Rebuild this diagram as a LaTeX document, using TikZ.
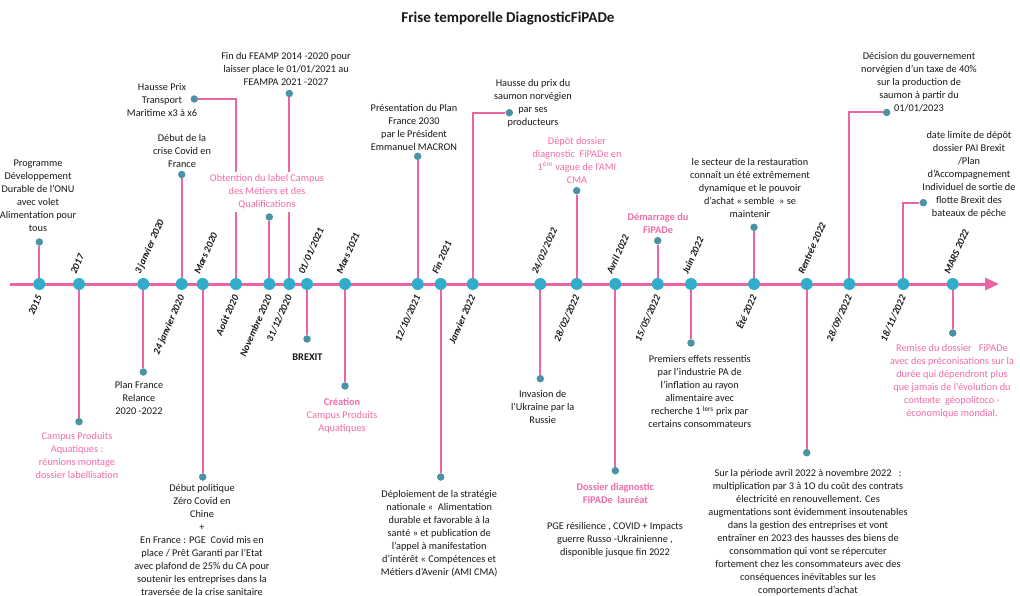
\documentclass[tikz,border=0pt]{standalone}
\usepackage{fontspec}
\setmainfont{Carlito}
\usetikzlibrary{arrows.meta,backgrounds}
\definecolor{pinkl}{RGB}{236,100,163}
\definecolor{pinkt}{RGB}{240,108,168}
\definecolor{bigc}{RGB}{49,172,202}
\definecolor{smallc}{RGB}{74,146,166}
\definecolor{txt}{RGB}{25,25,25}
\begin{document}
\begin{tikzpicture}[x=1pt,y=-1pt,
 bigdot/.style={circle,fill=bigc,minimum size=12pt,inner sep=0},
 smalldot/.style={circle,fill=smallc,minimum size=7.5pt,inner sep=0},
 stem/.style={draw=pinkl,line width=2pt},
 axisline/.style={draw=pinkl,line width=3pt,-{Triangle[length=14pt,width=12pt]}},
 lbl/.style={align=center,text=txt,font=\fontsize{10.3}{13}\selectfont,inner sep=0},
 plbl/.style={lbl,text=pinkt},
 bplbl/.style={lbl,text=pinkt,font=\fontsize{10.3}{13}\selectfont\bfseries},
 datea/.style={rotate=66,anchor=base west,inner sep=0,font=\fontsize{10}{11}\selectfont\bfseries\itshape,text=txt},
 dateb/.style={datea,anchor=base east},
]
\useasboundingbox (0,0) rectangle (1020,596);

\node[font=\fontsize{15}{18}\selectfont\bfseries,text=txt] (title) at (508,19) {Frise temporelle DiagnosticFiPADe};

% axis ends
\coordinate (axstart) at (10,284);
\coordinate (axend) at (999,284);

% big circles
\node[bigdot] (c15) at (39.3,284) {};
\node[bigdot] (c17) at (79,284) {};
\node[bigdot] (cJ3) at (143.3,284) {};
\node[bigdot] (cJ24) at (181.7,284) {};
\node[bigdot] (cM20) at (202.7,284) {};
\node[bigdot] (cA20) at (236,284) {};
\node[bigdot] (cN20) at (269.3,284) {};
\node[bigdot] (cD20) at (289.3,284) {};
\node[bigdot] (cJ21) at (307,284) {};
\node[bigdot] (cM21) at (345,284) {};
\node[bigdot] (cO21) at (417.7,284) {};
\node[bigdot] (cF21) at (440.7,284) {};
\node[bigdot] (cJ22) at (472.7,284) {};
\node[bigdot] (cF24) at (540.3,284) {};
\node[bigdot] (cF28) at (576.7,284) {};
\node[bigdot] (cAv22) at (615.3,284) {};
\node[bigdot] (cMa22) at (657.7,284) {};
\node[bigdot] (cJu22) at (691,284) {};
\node[bigdot] (cE22) at (754,284) {};
\node[bigdot] (cR22) at (806.7,284) {};
\node[bigdot] (cS22) at (849.3,284) {};
\node[bigdot] (cN22) at (903.3,284) {};
\node[bigdot] (cMs22) at (952.7,284) {};

% small dots
\node[smalldot] (d15) at (39.3,242) {};
\node[smalldot] (dCovid) at (181.7,174.5) {};
\node[smalldot] (dTransp) at (194.3,99) {};
\node[smalldot] (dFeamp) at (289.3,93.5) {};
\node[smalldot] (dLabel) at (269.3,217) {};
\node[smalldot] (dF2030) at (417.7,156.3) {};
\node[smalldot] (dSaumon) at (509.3,112.7) {};
\node[smalldot] (dDepot) at (576.7,190.7) {};
\node[smalldot] (dDemar) at (657.7,240.7) {};
\node[smalldot] (dResto) at (754,227.3) {};
\node[smalldot] (dTaxe) at (886.7,112.5) {};
\node[smalldot] (dPAI) at (923.3,202.7) {};
\node[smalldot] (dCampus) at (79,421.7) {};
\node[smalldot] (dRelance) at (143.3,372) {};
\node[smalldot] (dZero) at (202.7,477) {};
\node[smalldot] (dBrexit) at (307,339) {};
\node[smalldot] (dCreation) at (345,386) {};
\node[smalldot] (dDeploi) at (440.7,477) {};
\node[smalldot] (dUkraine) at (540.3,378.7) {};
\node[smalldot] (dLaureat) at (615.3,470.7) {};
\node[smalldot] (dInfl) at (691,343) {};
\node[smalldot] (dElec) at (806.7,452.7) {};
\node[smalldot] (dRemise) at (952.7,333) {};

% connectors
\begin{pgfonlayer}{background}
\fill[white] (0,0) rectangle (1020,596);
\draw[axisline] (axstart) -- (axend);
\draw[stem] (c15) -- (d15);
\draw[stem] (cJ24) -- (dCovid);
\draw[stem] (cA20) |- (dTransp);
\draw[stem] (cD20) -- (dFeamp);
\draw[stem] (cN20) -- (dLabel);
\draw[stem] (cO21) -- (dF2030);
\draw[stem] (cJ22) |- (dSaumon);
\draw[stem] (cF28) -- (dDepot);
\draw[stem] (cMa22) -- (dDemar);
\draw[stem] (cE22) -- (dResto);
\draw[stem] (cS22) |- (dTaxe);
\draw[stem] (cN22) |- (dPAI);
\draw[stem] (c17) -- (dCampus);
\draw[stem] (cJ3) -- (dRelance);
\draw[stem] (cM20) -- (dZero);
\draw[stem] (cJ21) -- (dBrexit);
\draw[stem] (cM21) -- (dCreation);
\draw[stem] (cF21) -- (dDeploi);
\draw[stem] (cF24) -- (dUkraine);
\draw[stem] (cAv22) -- (dLaureat);
\draw[stem] (cJu22) -- (dInfl);
\draw[stem] (cR22) -- (dElec);
\draw[stem] (cMs22) -- (dRemise);
\end{pgfonlayer}

% date labels
\node[dateb] (l15) at (42.3,297) {2015};
\node[datea] (l17) at (76,275) {2017};
\node[datea] (lJ3) at (140.3,275) {3 janvier 2020};
\node[dateb] (lJ24) at (184.7,297) {24 janvier 2020};
\node[datea] (lM20) at (199.7,275) {Mars 2020};
\node[dateb] (lA20) at (239,297) {Août 2020};
\node[dateb] (lN20) at (272.3,297) {Novembre 2020};
\node[dateb] (lD20) at (292.3,297) {31/12/2020};
\node[datea] (lJ21) at (304,275) {01/01/2021};
\node[datea] (lM21) at (342,275) {Mars 2021};
\node[dateb] (lO21) at (420.7,297) {12/10/2021};
\node[datea] (lF21) at (437.7,275) {Fin 2021};
\node[dateb] (lJ22) at (475.7,297) {Janvier 2022};
\node[datea] (lF24) at (537.3,275) {24/02/2022};
\node[dateb] (lF28) at (579.7,297) {28/02/2022};
\node[datea] (lAv22) at (612.3,275) {Avril 2022};
\node[dateb] (lMa22) at (660.7,297) {15/05/2022};
\node[datea] (lJu22) at (688,275) {Juin 2022};
\node[dateb] (lE22) at (757,297) {Été 2022};
\node[datea] (lR22) at (803.7,275) {Rentrée 2022};
\node[dateb] (lS22) at (852.3,297) {28/09/2022};
\node[dateb] (lN22) at (906.3,297) {18/11/2022};
\node[datea] (lMs22) at (949.7,275) {MARS 2022};

% event texts above
\node[lbl] (t15) at (38,195.5) {Programme\\Développement\\Durable de l’ONU\\avec volet\\Alimentation pour\\tous};
\node[lbl] (tCovid) at (182,150.5) {Début de la\\crise Covid en\\France};
\node[lbl] (tTransp) at (162,100) {Hausse Prix\\Transport\\Maritime x3 à x6};
\node[lbl] (tFeamp) at (286,68.5) {Fin du FEAMP 2014 -2020 pour\\laisser place le 01/01/2021 au\\FEAMPA 2021 -2027};
\node[plbl,fill=white,inner ysep=3pt] (tLabel) at (267,192) {Obtention du label Campus\\des Métiers et des\\Qualifications};
\node[lbl] (tF2030) at (414,127.5) {Présentation du Plan\\France 2030\\par le Président\\Emmanuel MACRON};
\node[lbl] (tSaumon) at (533,103.5) {Hausse du prix du\\saumon norvégien\\par ses\\producteurs};
\node[plbl] (tDepot) at (577,160) {Dépôt dossier\\diagnostic\ \ FiPADe en\\1\textsuperscript{ère} vague de l’AMI\\CMA};
\node[bplbl] (tDemar) at (658,223) {Démarrage du\\FiPADe};
\node[lbl] (tResto) at (750,187.5) {le secteur de la restauration\\connaît un été extrêmement\\dynamique et le pouvoir\\d’achat « semble\ \ » se\\maintenir};
\node[lbl] (tTaxe) at (919,81.7) {Décision du gouvernement\\norvégien d’un taxe de 40\%\\sur la production de\\saumon à partir du\\01/01/2023};
\node[lbl] (tPAI) at (969,174.8) {date limite de dépôt\\dossier PAI Brexit\\/Plan\\d’Accompagnement\\Individuel de sortie de\\flotte Brexit des\\bateaux de pêche};

% event texts below
\node[plbl] (tCampus) at (77,455) {Campus Produits\\Aquatiques :\\réunions montage\\dossier labellisation};
\node[lbl] (tRelance) at (139,398.3) {Plan France\\Relance\\2020 -2022};
\node[lbl] (tZero) at (202,539.8) {Début politique\\Zéro Covid en\\Chine\\+\\En France : PGE\ \ Covid mis en\\place / Prêt Garanti par l'Etat\\avec plafond de 25\% du CA pour\\soutenir les entreprises dans la\\traversée de la crise sanitaire};
\node[lbl,font=\fontsize{10.3}{13}\selectfont\bfseries] (tBrexit) at (307.5,357.3) {BREXIT};
\node[plbl] (tCreation) at (342,415.7) {\textbf{Création}\\Campus Produits\\Aquatiques};
\node[lbl] (tDeploi) at (439.2,533.2) {Déploiement de la stratégie\\nationale «\ \ Alimentation\\durable et favorable à la\\santé » et publication de\\l’appel à manifestation\\d’intérêt « Compétences et\\Métiers d’Avenir (AMI CMA)};
\node[lbl] (tUkraine) at (542.7,406.7) {Invasion de\\l’Ukraine par la\\Russie};
\node[bplbl] (tLaureat) at (615.3,493.3) {Dossier diagnostic\\FiPADe\ \ lauréat};
\node[lbl] (tPGE) at (615,539.7) {PGE résilience , COVID + Impacts\\guerre Russo -Ukrainienne ,\\disponible jusque fin 2022};
\node[lbl] (tInfl) at (699.7,391.8) {Premiers effets ressentis\\par l’industrie PA de\\l’inflation au rayon\\alimentaire avec\\recherche 1 \textsuperscript{lers} prix par\\certains consommateurs};
\node[lbl] (tElec) at (808,532) {Sur la période avril 2022 à novembre 2022\ \ \ :\\multiplication par 3 à 1O du coût des contrats\\électricité en renouvellement. Ces\\augmentations sont évidemment insoutenables\\dans la gestion des entreprises et vont\\entraîner en 2023 des hausses des biens de\\consommation qui vont se répercuter\\fortement chez les consommateurs avec des\\conséquences inévitables sur les\\comportements d’achat};
\node[plbl] (tRemise) at (952,381.7) {Remise du dossier\ \ \ FiPADe\\avec des préconisations sur la\\durée qui dépendront plus\\que jamais de l’évolution du\\contexte\ \ géopolitoco -\\économique mondial.};
\end{tikzpicture}
\end{document}
